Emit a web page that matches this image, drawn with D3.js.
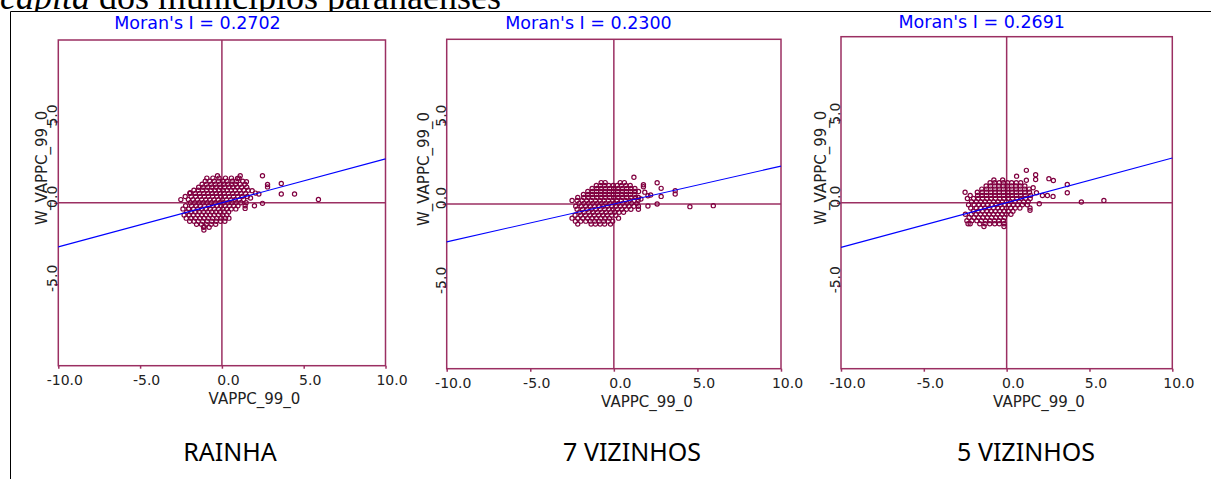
<!DOCTYPE html>
<html>
<head>
<meta charset="utf-8">
<script src="https://cdn.jsdelivr.net/npm/d3@7"></script>
<style>
body { margin: 0; background: #fff; }
</style>
</head>
<body>
<div id="chart"></div>
<script>
// values
var moranValues = [0.2702, 0.2300, 0.2691];
var panelLabels = ["RAINHA", "7 VIZINHOS", "5 VIZINHOS"];
var xTicks = [-10, -5, 0, 5, 10];
var yTicks = [-5, 0, 5];
var xTitle = "VAPPC_99_0";
var yTitle = "W_VAPPC_99_0";

// dense core of each cloud, as rows: [y, [x, x, ...]]
var rainhaCore = [
	[1.52, [-0.92, -0.55, -0.18, 0.22, 0.58, 1.05]],
	[1.33, [-1.02, -0.74, -0.47, -0.2, 0.06, 0.31, 0.63, 0.88, 1.27]],
	[1.14, [-1.21, -0.95, -0.66, -0.41, -0.13, 0.12, 0.37, 0.61, 0.84, 1.12, 1.41]],
	[0.96, [-1.42, -1.15, -0.88, -0.62, -0.36, -0.1, 0.16, 0.42, 0.67, 0.93, 1.2, 1.52]],
	[0.77, [-1.71, -1.44, -1.18, -0.93, -0.67, -0.42, -0.18, 0.07, 0.33, 0.58, 0.82, 1.08, 1.35, 1.6]],
	[0.58, [-1.96, -1.63, -1.37, -1.11, -0.86, -0.6, -0.35, -0.11, 0.14, 0.4, 0.66, 0.91, 1.17, 1.45]],
	[0.39, [-2.24, -1.88, -1.6, -1.33, -1.07, -0.82, -0.57, -0.31, -0.06, 0.19, 0.45, 0.71, 0.97, 1.24, 1.55]],
	[0.2, [-2.51, -2.05, -1.77, -1.5, -1.24, -0.99, -0.74, -0.48, -0.23, 0.03, 0.28, 0.54, 0.8, 1.06, 1.33]],
	[0.01, [-1.93, -1.66, -1.4, -1.15, -0.9, -0.65, -0.4, -0.14, 0.11, 0.37, 0.62, 0.88, 1.15, 1.48]],
	[-0.18, [-2.22, -1.86, -1.58, -1.32, -1.07, -0.81, -0.56, -0.3, -0.05, 0.2, 0.46, 0.72, 0.98, 1.42]],
	[-0.37, [-2.38, -2.03, -1.74, -1.48, -1.22, -0.97, -0.71, -0.46, -0.21, 0.05, 0.3, 0.57, 0.85]],
	[-0.56, [-2.15, -1.89, -1.63, -1.38, -1.12, -0.87, -0.62, -0.37, -0.11, 0.14, 0.41]],
	[-0.75, [-2.31, -2.0, -1.74, -1.48, -1.23, -0.97, -0.72, -0.46, -0.21, 0.04, 0.3]],
	[-0.94, [-2.18, -1.9, -1.61, -1.35, -1.09, -0.83, -0.57, -0.32, -0.06, 0.22, 0.43]],
	[-1.13, [-1.97, -1.7, -1.45, -1.18, -0.9, -0.62, -0.35, -0.08, 0.18]],
	[-1.32, [-1.55, -1.25, -0.96, -0.66, -0.38]],
	[-1.5, [-1.12, -0.78]],
	[-1.67, [-1.1]]
];
var rainhaOut = [[2.48, 1.66], [-0.27, 1.66], [3.63, 1.19], [3.63, 0.54], [4.44, 0.54], [5.9, 0.21],
	[2.79, 1.13], [2.79, 0.98], [1.99, -0.18], [2.48, -0.03], [2.26, 0.54], [1.12, 1.66], [0.95, 1.5],
	[1.5, 1.3], [1.85, 0.75], [1.75, 0.3], [-1.94, 0.62], [-1.08, -1.46], [1.42, -0.34], [2.05, 0.6]];

var viz7Core = [
	[1.3, [-0.76, -0.52, 0.38, 0.63]],
	[1.12, [-1.05, -0.8, -0.55, -0.3, -0.04, 0.2, 0.45, 0.72, 0.98]],
	[0.94, [-1.3, -1.02, -0.77, -0.51, -0.26, -0.01, 0.25, 0.5, 0.76, 1.02, 1.26]],
	[0.76, [-1.56, -1.29, -1.03, -0.78, -0.52, -0.27, -0.02, 0.24, 0.5, 0.75, 1.0, 1.27, 1.48]],
	[0.58, [-1.82, -1.55, -1.3, -1.04, -0.78, -0.53, -0.28, -0.03, 0.23, 0.48, 0.74, 0.99, 1.25]],
	[0.4, [-2.16, -1.8, -1.54, -1.28, -1.02, -0.77, -0.52, -0.26, -0.01, 0.25, 0.5, 0.76, 1.02, 1.3, 1.47]],
	[0.22, [-2.5, -2.2, -1.9, -1.62, -1.35, -1.09, -0.83, -0.58, -0.32, -0.07, 0.19, 0.44, 0.7, 0.96, 1.22, 1.45]],
	[0.04, [-2.08, -1.8, -1.53, -1.27, -1.01, -0.75, -0.5, -0.24, 0.02, 0.27, 0.53, 0.79, 1.06, 1.38]],
	[-0.14, [-2.28, -1.95, -1.68, -1.41, -1.15, -0.89, -0.63, -0.38, -0.12, 0.13, 0.39, 0.65, 0.91, 1.2, 1.47]],
	[-0.32, [-2.2, -1.87, -1.6, -1.33, -1.07, -0.81, -0.55, -0.3, -0.04, 0.22, 0.48, 0.75, 1.02, 1.47]],
	[-0.5, [-2.05, -1.77, -1.5, -1.24, -0.98, -0.72, -0.46, -0.2, 0.05, 0.31, 0.58]],
	[-0.68, [-2.32, -1.98, -1.7, -1.43, -1.17, -0.91, -0.65, -0.39, -0.14, 0.12]],
	[-0.86, [-2.5, -2.16, -1.86, -1.58, -1.31, -1.05, -0.79, -0.53, -0.27, 0.28]],
	[-1.04, [-2.3, -1.98, -1.68, -1.41, -1.14, -0.88, -0.6, -0.33, -0.07]],
	[-1.22, [-2.16, -1.36, -1.1, -0.82, -0.55, -0.2]]
];
var viz7Out = [[1.2, 1.62], [1.77, 1.17], [1.77, 1.05], [2.59, 1.29], [2.83, 0.95], [3.67, 0.81],
	[3.67, 0.61], [4.55, -0.16], [5.95, -0.1], [2.59, 0.0], [2.04, -0.12], [2.83, 0.46], [2.04, 0.5],
	[2.2, 0.55], [1.62, 0.3], [1.85, 0.72]];

var viz5Core = [
	[1.37, [-0.77, -0.24]],
	[1.2, [-1.0, -0.72, -0.45, -0.2, 0.05, 0.3, 0.58, 0.85]],
	[1.01, [-1.24, -0.98, -0.72, -0.47, -0.21, 0.04, 0.3, 0.56, 0.82, 1.1]],
	[0.82, [-1.5, -1.22, -0.97, -0.71, -0.45, -0.2, 0.06, 0.31, 0.57, 0.83, 1.09, 1.36]],
	[0.63, [-2.51, -1.77, -1.48, -1.22, -0.96, -0.7, -0.45, -0.19, 0.06, 0.32, 0.58, 0.84, 1.1, 1.38]],
	[0.44, [-2.2, -1.75, -1.48, -1.22, -0.96, -0.7, -0.44, -0.18, 0.07, 0.33, 0.59, 0.85, 1.12, 1.45]],
	[0.25, [-2.37, -2.0, -1.72, -1.46, -1.2, -0.94, -0.68, -0.42, -0.17, 0.09, 0.35, 0.61, 0.87, 1.14, 1.42]],
	[0.06, [-2.12, -1.83, -1.56, -1.3, -1.04, -0.78, -0.52, -0.26, -0.01, 0.25, 0.51, 0.77, 1.03, 1.3]],
	[-0.13, [-2.3, -1.96, -1.68, -1.41, -1.15, -0.89, -0.63, -0.37, -0.11, 0.15, 0.41, 0.67, 0.95, 1.25]],
	[-0.32, [-2.17, -1.84, -1.57, -1.31, -1.05, -0.79, -0.53, -0.27, -0.01, 0.25, 0.52, 0.8, 1.41]],
	[-0.51, [-2.0, -1.72, -1.46, -1.2, -0.94, -0.68, -0.42, -0.16, 0.1, 0.38]],
	[-0.7, [-2.49, -2.14, -1.85, -1.58, -1.32, -1.06, -0.8, -0.54, -0.28, -0.02, 0.26]],
	[-0.89, [-2.27, -1.97, -1.7, -1.43, -1.17, -0.91, -0.65, -0.39, -0.13]],
	[-1.08, [-2.4, -2.1, -1.8, -1.53, -1.27, -1.0, -0.73, -0.47, -0.2]],
	[-1.27, [-2.33, -2.2, -1.62, -1.3, -1.02, -0.72, -0.44, -0.16]],
	[-1.43, [-1.37, -0.16]]
];
var viz5Out = [[1.19, 1.95], [1.75, 1.69], [1.75, 1.4], [0.6, 1.6], [2.55, 1.45], [2.82, 1.34],
	[3.66, 1.1], [3.66, 0.6], [4.51, 0.04], [5.87, 0.14], [2.8, 0.38], [2.46, 0.43], [2.16, 0.43],
	[1.97, -0.06], [1.41, -0.46], [1.19, 1.35], [1.6, 0.9], [1.8, 0.6]];

// page geometry for each panel (pixels)
var boxes = [
	{l: 58.3, r: 385.5, t: 40, b: 365.7, titleX: 197.5, titleY: 29.3, xTitleX: 254.5, yTitleX: 47},
	{l: 446.7, r: 781, t: 39.3, b: 368.7, titleX: 588.5, titleY: 29.3, xTitleX: 647, yTitleX: 429},
	{l: 841, r: 1172.3, t: 36.7, b: 368.7, titleX: 981.7, titleY: 28.3, xTitleX: 1039, yTitleX: 826}
];
var labelCenters = [230, 632, 1026];

var frameColor = "#9b2f62",
	pointColor = "#800040",
	textColor = "#222";

function flatten(core, out) {
	var pts = [];
	core.forEach(function(row) {
		row[1].forEach(function(x) { pts.push([x, row[0]]); });
	});
	return pts.concat(out);
}
var panelData = [flatten(rainhaCore, rainhaOut), flatten(viz7Core, viz7Out), flatten(viz5Core, viz5Out)];

var svg = d3.select("#chart")
	.append("svg")
		.attr("width", 1211)
		.attr("height", 479)
		.style("display", "block");

// document text above the table, only its lower part shows above the border
svg.append("clipPath")
	.attr("id", "headclip")
	.append("rect")
		.attr("x", 0).attr("y", 0).attr("width", 1211).attr("height", 11);

var head = svg.append("text")
	.attr("x", 0)
	.attr("y", 8.5)
	.attr("clip-path", "url(#headclip)")
	.attr("font-family", "Liberation Serif, serif")
	.attr("font-size", "36px")
	.attr("fill", "#000");
head.append("tspan").attr("font-style", "italic").text("capita");
head.append("tspan").text(" dos municípios paranaenses");

// table borders
svg.append("line")
	.attr("x1", 10.5).attr("x2", 1211).attr("y1", 11.5).attr("y2", 11.5)
	.attr("stroke", "#000").attr("stroke-width", 1);
svg.append("line")
	.attr("x1", 10.5).attr("x2", 10.5).attr("y1", 11.5).attr("y2", 479)
	.attr("stroke", "#000").attr("stroke-width", 1);

var fmt = function(d) { return d.toFixed(1); };

boxes.forEach(function(box, i) {
	var x = d3.scaleLinear().domain([-10, 10]).range([box.l, box.r]);
	var y = d3.scaleLinear().domain([-10, 10]).range([box.b, box.t]);
	var g = svg.append("g");

	// frame and quadrant lines
	g.append("rect")
		.attr("x", x(-10)).attr("y", y(10))
		.attr("width", x(10) - x(-10)).attr("height", y(-10) - y(10))
		.attr("fill", "none").attr("stroke", frameColor).attr("stroke-width", 1.5);
	g.append("line")
		.attr("x1", x(0)).attr("x2", x(0)).attr("y1", y(10)).attr("y2", y(-10))
		.attr("stroke", frameColor).attr("stroke-width", 1.5);
	g.append("line")
		.attr("x1", x(-10)).attr("x2", x(10)).attr("y1", y(0)).attr("y2", y(0))
		.attr("stroke", frameColor).attr("stroke-width", 1.5);

	// points
	g.selectAll("circle")
		.data(panelData[i])
		.enter()
		.append("circle")
			.attr("cx", function(d) { return x(d[0]); })
			.attr("cy", function(d) { return y(d[1]); })
			.attr("r", 2.1)
			.attr("fill", "none")
			.attr("stroke", pointColor)
			.attr("stroke-width", 1.2);

	// regression line, slope = Moran's I
	var slope = moranValues[i];
	var line = d3.line()
		.x(function(d) { return x(d); })
		.y(function(d) { return y(d * slope); });
	g.append("path")
		.datum([-10, 10])
		.attr("d", line)
		.attr("fill", "none")
		.attr("stroke", "#0000ff")
		.attr("stroke-width", 1.1);

	// x axis
	var xAxis = g.append("g")
		.attr("transform", "translate(0," + box.b + ")")
		.call(d3.axisBottom(x).tickValues(xTicks).tickSize(3).tickFormat(fmt));
	xAxis.select(".domain").remove();
	xAxis.selectAll("line").attr("stroke", frameColor).attr("stroke-width", 1.5);
	xAxis.selectAll("text")
		.attr("y", 19).attr("dy", null).attr("x", 6)
		.attr("font-family", "DejaVu Sans, sans-serif")
		.attr("font-size", "14px")
		.attr("fill", textColor);

	// y axis, rotated labels
	var yAxis = g.append("g")
		.attr("transform", "translate(" + box.l + ",0)")
		.call(d3.axisLeft(y).tickValues(yTicks).tickSize(4).tickFormat(fmt));
	yAxis.select(".domain").remove();
	yAxis.selectAll("line").attr("stroke", frameColor).attr("stroke-width", 1.5);
	yAxis.selectAll("text")
		.attr("transform", "rotate(-90)")
		.attr("x", 6.5).attr("y", -1).attr("dy", null)
		.attr("text-anchor", "middle")
		.attr("font-family", "DejaVu Sans, sans-serif")
		.attr("font-size", "14px")
		.attr("fill", textColor);

	// titles
	g.append("text")
		.attr("x", box.titleX).attr("y", box.titleY)
		.attr("text-anchor", "middle")
		.attr("font-family", "DejaVu Sans, sans-serif")
		.attr("font-size", "17.5px")
		.attr("fill", "#0000ff")
		.text("Moran's I = " + moranValues[i].toFixed(4));

	g.append("text")
		.attr("x", box.xTitleX).attr("y", box.b + 38)
		.attr("text-anchor", "middle")
		.attr("font-family", "DejaVu Sans, sans-serif")
		.attr("font-size", "15px")
		.attr("fill", textColor)
		.text(xTitle);

	var yc = y(0) - 35;
	g.append("text")
		.attr("transform", "translate(" + box.yTitleX + "," + yc + ") rotate(-90)")
		.attr("text-anchor", "middle")
		.attr("font-family", "DejaVu Sans, sans-serif")
		.attr("font-size", "15px")
		.attr("fill", textColor)
		.text(yTitle);

	// caption under each plot
	svg.append("text")
		.attr("x", labelCenters[i]).attr("y", 461)
		.attr("text-anchor", "middle")
		.attr("font-family", "Noto Sans, sans-serif")
		.attr("font-size", "25px")
		.attr("fill", "#000")
		.text(panelLabels[i]);
});
</script>
</body>
</html>
